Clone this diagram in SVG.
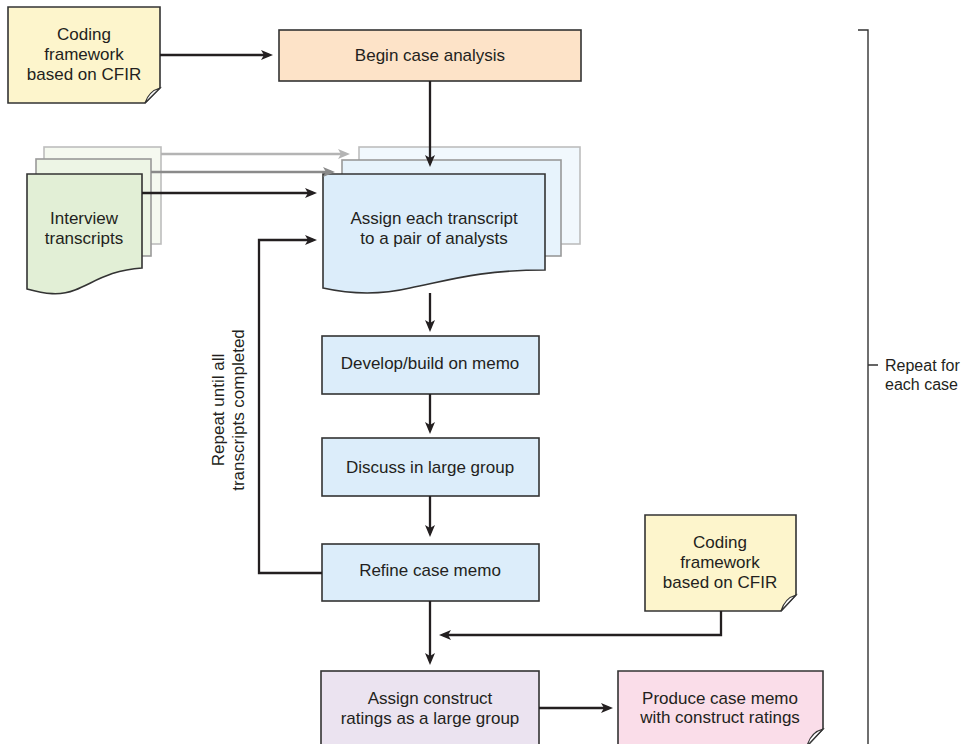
<svg xmlns="http://www.w3.org/2000/svg" width="966" height="744" viewBox="0 0 966 744">
<defs>
<style>
.t{font-family:"Liberation Sans",Arial,sans-serif;font-size:17px;fill:#231f20;text-anchor:middle}
.tl{font-family:"Liberation Sans",Arial,sans-serif;font-size:16px;fill:#231f20}
.box{stroke:#333;stroke-width:1.6}
.blue{fill:#dcedfa}
.c{fill:none;stroke:#231f20;stroke-width:2.3}
.fold{fill:#fff;stroke:#333;stroke-width:1.2}
</style>
<marker id="ad" viewBox="0 0 12 10" markerWidth="12" markerHeight="10" refX="8" refY="5" orient="auto" markerUnits="userSpaceOnUse"><path d="M0,0 L12,5 L0,10 L3,5 Z" fill="#231f20"/></marker>
<marker id="am" viewBox="0 0 12 10" markerWidth="12" markerHeight="10" refX="8" refY="5" orient="auto" markerUnits="userSpaceOnUse"><path d="M0,0 L12,5 L0,10 L3,5 Z" fill="#8a8a8a"/></marker>
<marker id="al" viewBox="0 0 12 10" markerWidth="12" markerHeight="10" refX="8" refY="5" orient="auto" markerUnits="userSpaceOnUse"><path d="M0,0 L12,5 L0,10 L3,5 Z" fill="#b4b4b4"/></marker>
</defs>

<g id="note-cfir-top">
<path class="box" fill="#fdf5cc" d="M8,7 H160 V88 L145,103 H8 Z"/>
<path class="fold" fill="#fdf5cc" d="M160,88 Q149,91 145,103 Z"/>
<text class="t"><tspan x="84" y="40">Coding</tspan><tspan x="84" y="60">framework</tspan><tspan x="84" y="80">based on CFIR</tspan></text>
</g>

<g id="begin">
<rect class="box" x="279" y="30" width="302" height="51" fill="#fde3c8"/>
<text class="t" x="430" y="61">Begin case analysis</text>
</g>

<g id="interview">
<rect x="44" y="147" width="117" height="97" fill="#f5f9f0" stroke="#bdbdbd" stroke-width="1.6"/>
<rect x="36" y="159" width="115" height="97" fill="#edf5e5" stroke="#999" stroke-width="1.6"/>
<path class="box" fill="#e2efd6" d="M27,174 H142 V268 C110,270 95,282 75,290 C60,296 45,294 27,289 Z"/>
<text class="t"><tspan x="84" y="224">Interview</tspan><tspan x="84" y="244">transcripts</tspan></text>
</g>

<g id="assign">
<rect x="359" y="147" width="221" height="97" fill="#f1f8fd" stroke="#bdbdbd" stroke-width="1.6"/>
<rect x="342" y="160" width="219" height="96" fill="#e7f3fc" stroke="#999" stroke-width="1.6"/>
<path class="box blue" d="M323,174 H545 V270 C480,270 450,280 410,288 C380,295 350,294 323,288 Z"/>
<text class="t"><tspan x="434" y="224">Assign each transcript</tspan><tspan x="434" y="244">to a pair of analysts</tspan></text>
</g>

<g id="develop">
<rect class="box blue" x="322" y="336" width="217" height="58"/>
<text class="t" x="430" y="369">Develop/build on memo</text>
</g>

<g id="discuss">
<rect class="box blue" x="322" y="438" width="217" height="58"/>
<text class="t" x="430" y="473">Discuss in large group</text>
</g>

<g id="refine">
<rect class="box blue" x="322" y="544" width="217" height="57"/>
<text class="t" x="430" y="576">Refine case memo</text>
</g>

<g id="note-cfir-right">
<path class="box" fill="#fdf5cc" d="M645,515 H796 V595 L781,611 H645 Z"/>
<path class="fold" fill="#fdf5cc" d="M796,595 Q785,598 781,611 Z"/>
<text class="t"><tspan x="720" y="548">Coding</tspan><tspan x="720" y="568">framework</tspan><tspan x="720" y="588">based on CFIR</tspan></text>
</g>

<g id="ratings">
<rect class="box" x="321" y="671" width="218" height="80" fill="#ebe3f0"/>
<text class="t"><tspan x="430" y="704">Assign construct</tspan><tspan x="430" y="724">ratings as a large group</tspan></text>
</g>

<g id="produce">
<path class="box" fill="#fadde9" d="M618,671 H823 V729 L807,746 H618 Z"/>
<path class="fold" fill="#fadde9" d="M823,729 Q811,732 807,746 Z"/>
<text class="t"><tspan x="720" y="704">Produce case memo</tspan><tspan x="720" y="723">with construct ratings</tspan></text>
</g>

<g id="bracket">
<path d="M858,30 H868 V744 M868,365 H878" fill="none" stroke="#333" stroke-width="1.4"/>
<text class="tl"><tspan x="885" y="371">Repeat for</tspan><tspan x="885" y="390">each case</tspan></text>
</g>

<g id="loop-label">
<text class="t" transform="translate(228,410) rotate(-90)"><tspan x="0" y="-4">Repeat until all</tspan><tspan x="0" y="16">transcripts completed</tspan></text>
</g>

<g id="connectors">
<path class="c" d="M160,55 H269" marker-end="url(#ad)"/>
<path class="c" d="M430,81 V163" marker-end="url(#ad)"/>
<path d="M161,154 H346" fill="none" stroke="#b4b4b4" stroke-width="2.3" marker-end="url(#al)"/>
<path d="M151,172 H331" fill="none" stroke="#8a8a8a" stroke-width="2.3" marker-end="url(#am)"/>
<path class="c" d="M142,193 H313" marker-end="url(#ad)"/>
<path class="c" d="M322,573 H259 V240 H313" marker-end="url(#ad)"/>
<path class="c" d="M430,293 V328" marker-end="url(#ad)"/>
<path class="c" d="M430,394 V430" marker-end="url(#ad)"/>
<path class="c" d="M430,496 V533" marker-end="url(#ad)"/>
<path class="c" d="M430,601 V661" marker-end="url(#ad)"/>
<path class="c" d="M721,611 V635 H443" marker-end="url(#ad)"/>
<path class="c" d="M539,708 H609" marker-end="url(#ad)"/>
</g>
</svg>
